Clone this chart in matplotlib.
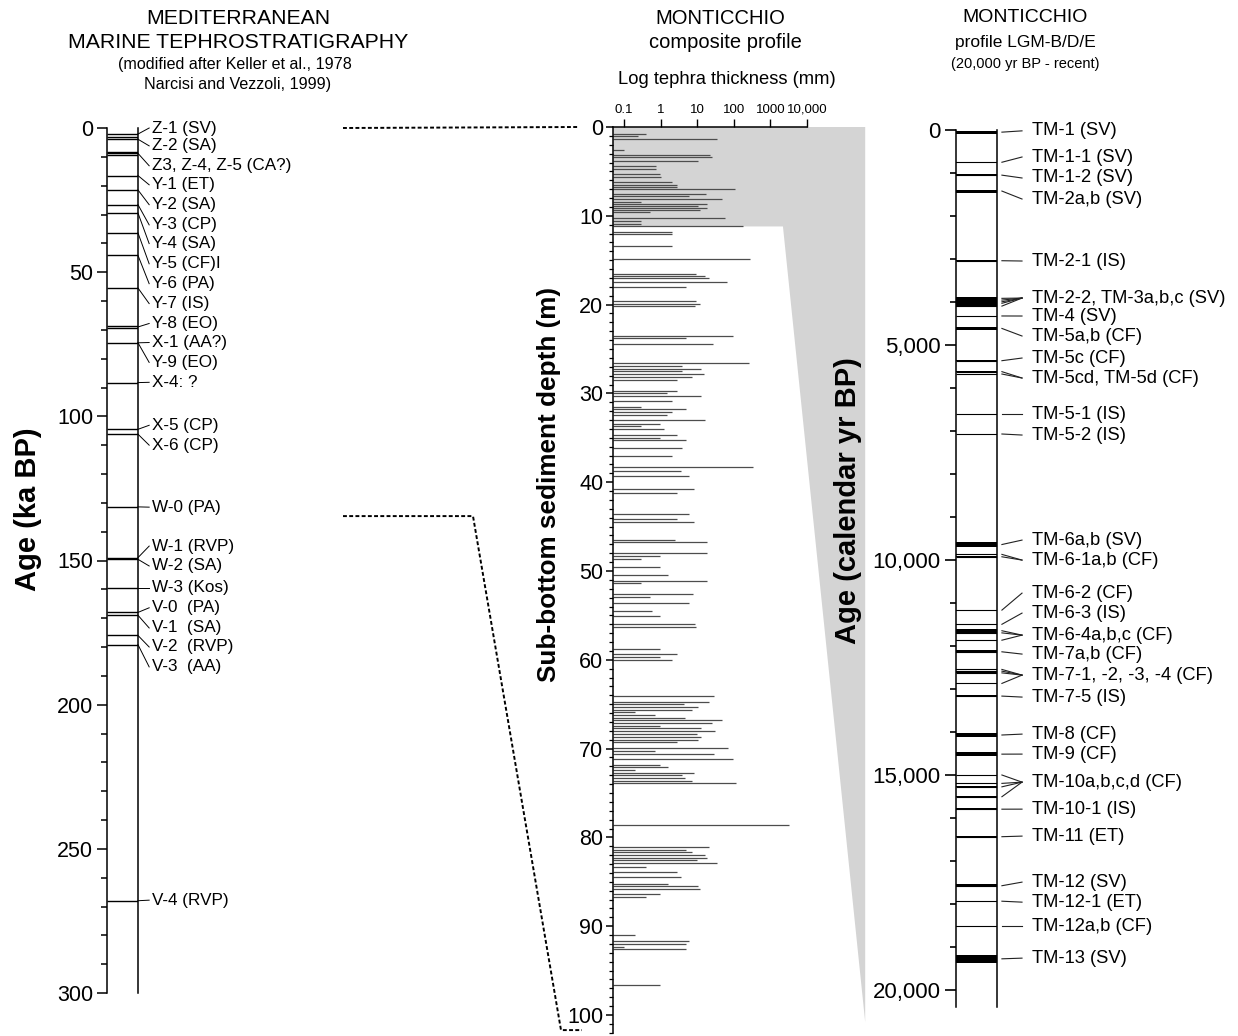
import numpy as np
import matplotlib
matplotlib.use('Agg')
import matplotlib.pyplot as plt
from matplotlib.lines import Line2D
from matplotlib.patches import Polygon
from matplotlib.ticker import MultipleLocator, LogLocator, NullFormatter, FuncFormatter

plt.rcParams['font.family'] = ['Liberation Sans', 'DejaVu Sans']

# ---- left: Mediterranean marine tephrostratigraphy (ka BP)
marine_layers = [2.1, 3.0, 3.9, 8.2, 8.8, 9.3, 16.5, 21.5, 26.6, 29.5, 36.4, 44.2, 55.5,
                 68.8, 69.4, 74.5, 88.3, 104.5, 106.2, 131.4, 149.0, 149.6, 159.5,
                 168.0, 169.0, 176.0, 179.2, 268.0]
marine_labels = ["Z-1 (SV)", "Z-2 (SA)", "Z3, Z-4, Z-5 (CA?)", "Y-1 (ET)", "Y-2 (SA)",
                 "Y-3 (CP)", "Y-4 (SA)", "Y-5 (CF)I", "Y-6 (PA)", "Y-7 (IS)", "Y-8 (EO)",
                 "X-1 (AA?)", "Y-9 (EO)", "X-4: ?", "X-5 (CP)", "X-6 (CP)", "W-0 (PA)",
                 "W-1 (RVP)", "W-2 (SA)", "W-3 (Kos)", "V-0  (PA)", "V-1  (SA)",
                 "V-2  (RVP)", "V-3  (AA)", "V-4 (RVP)"]
marine_label_ages = [0, 6.2, 13.1, 19.7, 26.6, 33.6, 40.1, 47.1, 54.0, 60.9, 67.8, 74.4,
                     81.3, 88.2, 103.1, 110.0, 131.5, 145.0, 151.9, 159.5, 166.4, 173.4,
                     180.0, 186.9, 267.8]
marine_label_src = [2.1, 3.9, 8.8, 16.5, 21.5, 26.6, 29.5, 36.4, 44.2, 55.5, 69.0, 74.5,
                    74.5, 88.3, 104.5, 106.2, 131.4, 149.0, 149.6, 159.5, 168.0, 169.0,
                    176.0, 179.2, 268.0]

# ---- middle: Monticchio composite profile
depth_m = [0.75, 1.0, 1.3, 2.6, 3.1, 3.4, 3.8, 4.4, 4.7, 5.3, 5.6, 6.2, 6.5, 6.8, 7.0, 7.5,
           7.8, 8.1, 8.4, 8.7, 8.9, 9.1, 9.4, 9.6, 10.3, 10.6, 10.9, 11.2, 11.8, 12.1, 13.4,
           14.9, 16.5, 16.8, 17.0, 17.4, 18.0, 19.6, 19.9, 20.2,
           23.5, 23.8, 24.4, 26.6, 26.9, 27.2, 27.5, 27.8, 28.2, 28.5, 29.7, 30.0, 30.3,
           30.9, 31.5, 31.8, 32.1, 32.4, 33.0, 33.4, 33.7, 34.0, 34.7, 35.0, 35.3, 36.2,
           37.1, 38.3, 38.7, 39.3, 40.8, 41.2, 43.6, 44.2, 44.5, 46.5, 46.7, 48.0, 48.3,
           48.6, 49.5, 50.5, 51.1, 51.4, 52.6, 52.9, 53.6, 54.5, 55.1,
           56.0, 56.3, 58.8, 59.4, 59.7, 60.0, 64.1, 64.7, 65.0, 65.3, 65.6, 65.9, 66.2,
           66.5, 66.8, 67.1, 67.4, 67.7, 68.0, 68.3, 68.7, 69.0, 69.3, 69.9, 70.3, 70.6,
           71.2, 71.8, 72.1, 72.4, 72.7, 73.0, 73.3, 73.6, 73.9, 78.6, 81.1, 81.4, 81.7,
           82.0, 82.3, 82.6, 82.9, 83.3, 83.9, 84.5, 85.2, 85.5, 85.8, 86.4, 86.7, 91.0,
           91.7, 92.0, 92.3, 92.6, 96.6]
thick_mm = [0.39, 0.24, 35, 0.1, 22, 25, 10.7, 0.74, 0.74, 0.98, 1.0, 2.0, 2.8, 2.8, 107, 17,
            5.9, 48, 0.3, 18, 10.7, 18, 12, 0.5, 57, 0.3, 0.3, 183, 2.0, 2.0, 2.0,
            280, 9, 16, 21, 67, 4.9, 9, 12, 8.6,
            96, 4.9, 27, 263, 3.9, 12.6, 3.9, 15, 7, 2.8, 2.8, 1.5, 12.6,
            2.0, 0.3, 4.9, 2.0, 1.5, 16, 0.95, 0.3, 1.25, 2.8, 0.95, 4.9, 3.9,
            2.0, 340, 3.5, 5.9, 8, 2.8, 5.9, 2.8, 8, 2.4, 19, 19, 0.95,
            0.3, 0.95, 1.6, 19, 0.3, 7.5, 0.5, 5.9, 0.57, 0.95,
            8.7, 9, 0.95, 2.8, 0.95, 2.0, 29, 21, 4.3, 10.7, 7, 0.2, 0.7,
            4.6, 48, 25, 0.95, 12.6, 30, 10, 12.6, 10.7, 2.8, 70, 0.7, 29,
            96, 0.95, 1.6, 0.2, 8, 3.9, 4.6, 7, 113, 3200, 21, 4.9, 7,
            16, 18, 10, 35, 0.4, 2.8, 3.5, 1.6, 10.7, 12, 0.95, 0.4, 0.2,
            5.9, 4.9, 0.1, 4.9, 0.95]
thick_ticks = [0.1, 1, 10, 100, 1000, 10000]
thick_ticklabels = ["0.1", "1", "10", "100", "1000", "10,000"]

lgm_base_m = 11.2          # base of profile LGM-B/D/E in composite depth
tie_age_ka = 134.6         # marine age tied to base of composite profile
tie_depth_m = 101.7

# ---- right: profile LGM-B/D/E (calendar yr BP)
tm_labels = ["TM-1 (SV)", "TM-1-1 (SV)", "TM-1-2 (SV)", "TM-2a,b (SV)", "TM-2-1 (IS)",
             "TM-2-2, TM-3a,b,c (SV)", "TM-4 (SV)", "TM-5a,b (CF)", "TM-5c (CF)",
             "TM-5cd, TM-5d (CF)", "TM-5-1 (IS)", "TM-5-2 (IS)", "TM-6a,b (SV)",
             "TM-6-1a,b (CF)", "TM-6-2 (CF)", "TM-6-3 (IS)", "TM-6-4a,b,c (CF)",
             "TM-7a,b (CF)", "TM-7-1, -2, -3, -4 (CF)", "TM-7-5 (IS)", "TM-8 (CF)",
             "TM-9 (CF)", "TM-10a,b,c,d (CF)", "TM-10-1 (IS)", "TM-11 (ET)",
             "TM-12 (SV)", "TM-12-1 (ET)", "TM-12a,b (CF)", "TM-13 (SV)"]
tm_label_ages = [20, 628, 1116, 1605, 3047, 3908, 4326, 4791, 5303, 5768, 6605, 7094,
                 9537, 10002, 10770, 11235, 11747, 12188, 12677, 13188, 14049, 14514,
                 15166, 15794, 16421, 17491, 17957, 18515, 19259]
tm_layers = [[50], [750], [1050], [1420], [3040], [3915, 3955, 3995, 4030, 4095], [4325],
             [4615], [5365], [5620, 5675], [6605], [7070], [9640], [9870, 9925], [11165],
             [11495], [11645, 11695, 11865], [12135], [12545, 12585, 12625, 12870],
             [13165], [14070], [14515], [15000, 15195, 15275, 15505], [15795], [16435],
             [17575], [17935], [18515], [19275]]
tm_thick_yr = [[70], [20], [40], [70], [20], [60, 60, 60, 60, 40], [20], [60], [20],
               [20, 20], [20], [20], [130], [20, 20], [20], [20], [60, 60, 20], [70],
               [20, 20, 20, 20], [60], [80], [80], [20, 20, 20, 20], [60], [20], [70],
               [30], [20], [180]]

W, H = 1238, 1036
fig = plt.figure(figsize=(W / 100, H / 100), dpi=100)


def box(x0, y0, x1, y1):
    return [x0 / W, 1 - y1 / H, (x1 - x0) / W, (y1 - y0) / H]


# ================= left panel
ax1 = fig.add_axes(box(107, 128, 138, 993))
ax1.set_xlim(0, 1)
ax1.set_ylim(300, 0)
for s in ['top', 'bottom']:
    ax1.spines[s].set_visible(False)
for s in ['left', 'right']:
    ax1.spines[s].set_linewidth(1.1)
ax1.set_xticks([])
ax1.yaxis.set_major_locator(MultipleLocator(50))
ax1.yaxis.set_minor_locator(MultipleLocator(10))
ax1.tick_params(axis='y', which='major', length=7, width=1.1, labelsize=15.5, pad=3)
ax1.tick_params(axis='y', which='minor', length=4, width=1.1)
ax1.hlines(marine_layers, 0, 1, color='k', lw=1.0)
tr1 = ax1.get_yaxis_transform()
for lab, la, src in zip(marine_labels, marine_label_ages, marine_label_src):
    ax1.plot([1.0, 1.36], [src, la], transform=tr1, clip_on=False, color='k', lw=0.7)
    ax1.text(1.45, la, lab, transform=tr1, va='center', ha='left', fontsize=12.3)

# ================= middle panel
ax2 = fig.add_axes(box(613, 127, 807, 127 + 102 * 8.88))
ax2.set_xscale('log')
ax2.set_xlim(0.05, 1e4)
ax2.set_ylim(102, 0)
ax2.patch.set_alpha(0)
for s in ['right', 'bottom']:
    ax2.spines[s].set_visible(False)
for s in ['left', 'top']:
    ax2.spines[s].set_linewidth(1.1)
ax2.hlines(depth_m, 0.05, thick_mm, color='#4d4d4d', lw=0.9, zorder=2)
ax2.xaxis.tick_top()
ax2.set_xticks(thick_ticks)
ax2.set_xticklabels(thick_ticklabels)
ax2.xaxis.set_minor_locator(LogLocator(base=10, subs=np.arange(2, 10)))
ax2.xaxis.set_minor_formatter(NullFormatter())
ax2.tick_params(axis='x', which='major', length=6, width=1.0, labelsize=9.5, pad=2)
ax2.tick_params(axis='x', which='minor', length=3, width=0.8)
ax2.yaxis.set_major_locator(MultipleLocator(10))
ax2.yaxis.set_minor_locator(MultipleLocator(1))
ax2.tick_params(axis='y', which='major', length=5, width=1.1, labelsize=15.5, pad=2)
ax2.tick_params(axis='y', which='minor', length=3, width=0.9)

tr2 = ax2.get_yaxis_transform()
gray = Polygon([(0, 0), (1.30, 0), (1.30, 100.8), (0.876, lgm_base_m), (0, lgm_base_m)],
               closed=True, transform=tr2, facecolor='#d4d4d4', edgecolor='none',
               clip_on=False, zorder=0)
ax2.add_patch(gray)

# ================= right panel
ax3 = fig.add_axes(box(956, 130, 997, 130 + 20400 * 0.043))
ax3.set_xlim(0, 1)
ax3.set_ylim(20400, 0)
ax3.patch.set_alpha(0)
for s in ['top', 'bottom']:
    ax3.spines[s].set_visible(False)
for s in ['left', 'right']:
    ax3.spines[s].set_linewidth(1.1)
ax3.set_xticks([])
ax3.yaxis.set_major_locator(MultipleLocator(5000))
ax3.yaxis.set_minor_locator(MultipleLocator(1000))
ax3.yaxis.set_major_formatter(FuncFormatter(lambda v, p: f"{int(v):,}"))
ax3.tick_params(axis='y', which='major', length=8, width=1.2, labelsize=16, pad=3)
ax3.tick_params(axis='y', which='minor', length=4.5, width=1.2)
tr3 = ax3.get_yaxis_transform()
for lab, la, ages, ths in zip(tm_labels, tm_label_ages, tm_layers, tm_thick_yr):
    ax3.barh(ages, 1, height=ths, left=0, color='k', lw=0)
    ax3.hlines(ages, 0, 1, color='k', lw=0.8)
    for a in ages:
        ax3.plot([1.12, 1.61], [a, la], transform=tr3, clip_on=False, color='#222222', lw=0.8)
    ax3.text(1.86, la, lab, transform=tr3, va='center', ha='left', fontsize=13.2)

# ================= dashed correlation lines
def disp(ax, y):
    return ax.transData.transform((1, y))[1]

inv = fig.transFigure.inverted()
pts1 = [(343, disp(ax1, 0)), (578, disp(ax2, 0))]
pts2 = [(343, disp(ax1, tie_age_ka)), (473, disp(ax1, tie_age_ka)),
        (561, disp(ax2, tie_depth_m)), (582, disp(ax2, tie_depth_m))]
for pts in (pts1, pts2):
    fpts = inv.transform(pts)
    fig.add_artist(Line2D(fpts[:, 0], fpts[:, 1], transform=fig.transFigure,
                          color='k', lw=1.4, linestyle=(0, (2, 1.2))))

# ================= titles and axis labels
def ftext(x, y, s, **kw):
    fig.text(x / W, 1 - y / H, s, ha='center', va='center', **kw)

ftext(238, 18, "MEDITERRANEAN", fontsize=15.3)
ftext(238, 43, "MARINE TEPHROSTRATIGRAPHY", fontsize=15.3)
ftext(235, 65, "(modified after Keller et al., 1978", fontsize=11.6)
ftext(238, 85, "Narcisi and Vezzoli, 1999)", fontsize=11.6)
ftext(720, 18, "MONTICCHIO", fontsize=14.5)
ftext(725, 43, "composite profile", fontsize=14.5)
ftext(727, 79, "Log tephra thickness (mm)", fontsize=13.2)
ftext(1025, 18, "MONTICCHIO", fontsize=14)
ftext(1025, 43, "profile LGM-B/D/E", fontsize=12.5)
ftext(1025, 64, "(20,000 yr BP - recent)", fontsize=10.5)

ftext(28, 509, "Age (ka BP)", fontsize=21, fontweight='bold', rotation=90)
ftext(549, 484, "Sub-bottom sediment depth (m)", fontsize=18.8, fontweight='bold', rotation=90)
ftext(848, 501, "Age (calendar yr BP)", fontsize=21, fontweight='bold', rotation=90)

fig.savefig('out.png', dpi=100)
